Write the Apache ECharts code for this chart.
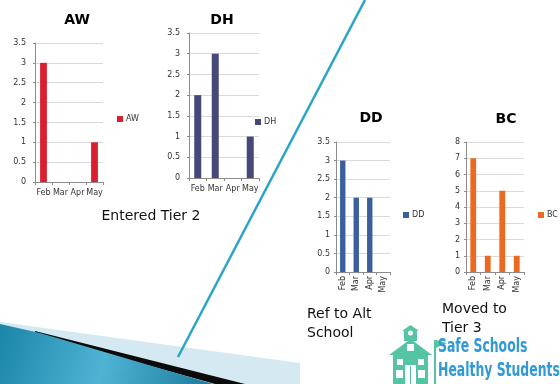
<!DOCTYPE html>
<html>
<head>
<meta charset="utf-8">
<script src="https://cdn.jsdelivr.net/npm/echarts@6/dist/echarts.min.js"></script>
<style>
  html, body { margin: 0; padding: 0; background: #fff; }
  #chart { width: 560px; height: 384px; }
</style>
</head>
<body>
<div id="chart"></div>
<script>
// Monthly counts per student
const months = ['Feb', 'Mar', 'Apr', 'May'];
const awValues = [3, 0, 0, 1];
const dhValues = [2, 3, 0, 1];
const ddValues = [3, 2, 2, 0];
const bcValues = [7, 1, 5, 1];

// Panel layout: one small bar chart per student
const panels = [
  { name: 'AW', values: awValues, color: '#dc1f2e', box: [35, 43, 68, 139], max: 3.5, step: 0.5, rotate: 0, title: [77, 20], legend: [117, 115] },
  { name: 'DH', values: dhValues, color: '#47487a', box: [189, 33, 70, 145], max: 3.5, step: 0.5, rotate: 0, title: [222, 20], legend: [255, 118] },
  { name: 'DD', values: ddValues, color: '#3b5f9e', box: [336, 142, 54, 130], max: 3.5, step: 0.5, rotate: 90, title: [371, 118], legend: [403, 211] },
  { name: 'BC', values: bcValues, color: '#eb6a1f', box: [466, 142, 58, 130], max: 8, step: 1, rotate: 90, title: [506, 119], legend: [538, 211] }
];

const labelFont = 'DejaVu Sans';
const grid = [], xAxis = [], yAxis = [], series = [], legend = [], graphic = [];

panels.forEach((p, i) => {
  grid.push({ left: p.box[0], top: p.box[1], width: p.box[2], height: p.box[3], containLabel: false });
  xAxis.push({
    type: 'category', gridIndex: i, data: months, boundaryGap: true,
    axisLine: { lineStyle: { color: '#8c8c8c', width: 1 } },
    axisTick: { show: true, length: 3, alignWithLabel: false, lineStyle: { color: '#8c8c8c' } },
    axisLabel: { interval: 0, rotate: p.rotate, margin: p.rotate ? 4 : 7, fontSize: 8, fontFamily: labelFont, color: '#333' }
  });
  yAxis.push({
    type: 'value', gridIndex: i, min: 0, max: p.max, interval: p.step,
    axisLine: { show: true, lineStyle: { color: '#8c8c8c', width: 1 } },
    axisTick: { show: true, length: 2, lineStyle: { color: '#8c8c8c' } },
    splitLine: { lineStyle: { color: '#d9d9d9', width: 1 } },
    axisLabel: { margin: p.rotate ? 6 : 9, fontSize: 8, fontFamily: labelFont, color: '#333' }
  });
  series.push({
    type: 'bar', name: p.name, xAxisIndex: i, yAxisIndex: i, data: p.values,
    barWidth: '40%', itemStyle: { color: p.color }, animation: false
  });
  legend.push({
    left: p.legend[0], top: p.legend[1], padding: 0, data: [p.name], icon: 'rect',
    itemWidth: 6, itemHeight: 6, selectedMode: false,
    textStyle: { fontSize: 8, fontFamily: labelFont, color: '#333', padding: [0, 0, 0, -2] }
  });
  graphic.push({
    type: 'text', z: 10,
    style: { x: p.title[0], y: p.title[1], text: p.name, font: 'bold 14px "DejaVu Sans"', fill: '#000', textAlign: 'center', textVerticalAlign: 'middle' }
  });
});

// Captions under the panels
const captionFont = '14px "DejaVu Sans"';
const captions = [
  { text: 'Entered Tier 2', x: 151, y: 216, align: 'center' },
  { text: 'Ref to Alt', x: 307, y: 314, align: 'left' },
  { text: 'School', x: 307, y: 333, align: 'left' },
  { text: 'Moved to', x: 442, y: 309, align: 'left' },
  { text: 'Tier 3', x: 442, y: 328, align: 'left' }
];
captions.forEach(c => graphic.push({
  type: 'text', z: 10,
  style: { x: c.x, y: c.y, text: c.text, font: captionFont, fill: '#111', textAlign: c.align, textVerticalAlign: 'middle' }
}));

// Slide decoration: divider line and bottom-left ribbon
graphic.push(
  { type: 'line', z: 1, shape: { x1: 365, y1: 0, x2: 178, y2: 357 }, style: { stroke: '#2aa5c7', lineWidth: 2.5 } },
  { type: 'polygon', z: 0, shape: { points: [[0, 322], [300, 363], [300, 384], [0, 384]] }, style: { fill: '#d4e9f1' } },
  { type: 'polygon', z: 2, shape: { points: [[35, 331], [245, 384], [215, 384], [35, 334]] }, style: { fill: '#0b0b0b' } },
  {
    type: 'polygon', z: 3, shape: { points: [[0, 324], [40, 333], [213, 384], [0, 384]] },
    style: { fill: new echarts.graphic.LinearGradient(0, 0, 1, 1, [
      { offset: 0, color: '#1b86a8' }, { offset: 0.5, color: '#4fb3d4' }, { offset: 1, color: '#1c7a9b' }
    ]) }
  }
);

// Program logo: schoolhouse with flag and name
const teal = '#55c4a4';
graphic.push(
  { type: 'rect', z: 5, shape: { x: 404, y: 329, width: 13, height: 12 }, style: { fill: teal } },
  { type: 'polygon', z: 5, shape: { points: [[402, 331], [410.5, 325], [419, 331]] }, style: { fill: teal } },
  { type: 'circle', z: 6, shape: { cx: 410.5, cy: 333, r: 2.5 }, style: { fill: '#fff' } },
  { type: 'polygon', z: 5, shape: { points: [[389, 355], [410.5, 339], [432, 355]] }, style: { fill: teal } },
  { type: 'rect', z: 5, shape: { x: 393, y: 353, width: 35, height: 31 }, style: { fill: teal } },
  { type: 'rect', z: 6, shape: { x: 407, y: 344, width: 7, height: 7 }, style: { fill: '#fff' } },
  { type: 'rect', z: 6, shape: { x: 397, y: 359, width: 6, height: 6 }, style: { fill: '#fff' } },
  { type: 'rect', z: 6, shape: { x: 418, y: 359, width: 6, height: 6 }, style: { fill: '#fff' } },
  { type: 'rect', z: 6, shape: { x: 396, y: 370, width: 7, height: 8 }, style: { fill: '#fff' } },
  { type: 'rect', z: 6, shape: { x: 418, y: 370, width: 7, height: 8 }, style: { fill: '#fff' } },
  { type: 'rect', z: 6, shape: { x: 405, y: 365, width: 11, height: 19 }, style: { fill: '#fff' } },
  { type: 'line', z: 7, shape: { x1: 410.5, y1: 366, x2: 410.5, y2: 384 }, style: { stroke: teal, lineWidth: 1 } },
  { type: 'line', z: 5, shape: { x1: 435, y1: 340, x2: 435, y2: 384 }, style: { stroke: teal, lineWidth: 2 } },
  { type: 'polygon', z: 5, shape: { points: [[436, 340], [447, 343], [436, 348]] }, style: { fill: teal } },
  {
    type: 'text', z: 10, x: 438, y: 347, scaleX: 0.69,
    style: { x: 0, y: 0, text: 'Safe Schools', font: 'bold 20px "Liberation Sans Narrow", "DejaVu Sans Condensed", sans-serif', fill: '#2f9ad5', textVerticalAlign: 'middle' }
  },
  {
    type: 'text', z: 10, x: 438, y: 371, scaleX: 0.69,
    style: { x: 0, y: 0, text: 'Healthy Students', font: 'bold 20px "Liberation Sans Narrow", "DejaVu Sans Condensed", sans-serif', fill: '#2f9ad5', textVerticalAlign: 'middle' }
  }
);

const chart = echarts.init(document.getElementById('chart'), null, { renderer: 'canvas' });
chart.setOption({
  animation: false,
  backgroundColor: '#fff',
  grid, xAxis, yAxis, series, legend, graphic
});
</script>
</body>
</html>
